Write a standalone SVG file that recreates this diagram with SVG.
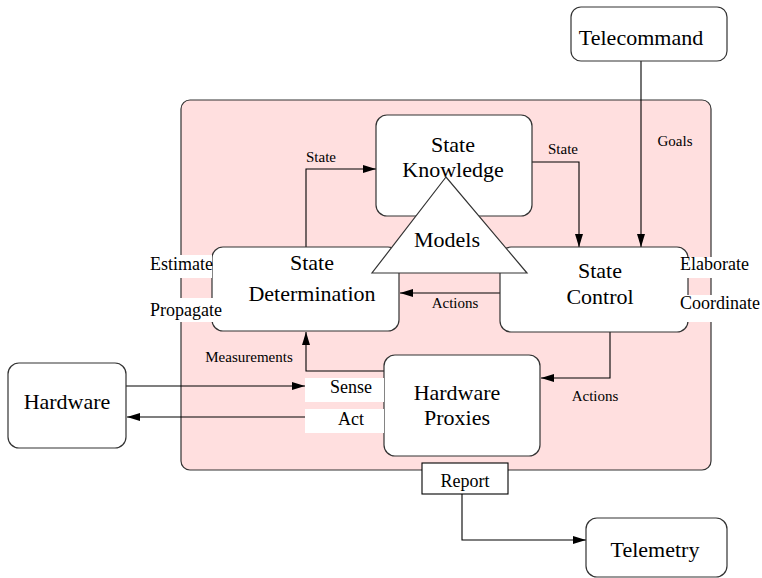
<svg xmlns="http://www.w3.org/2000/svg" width="762" height="578" viewBox="0 0 762 578" font-family="'Liberation Serif', serif">
<style>
.box{fill:#fff;stroke:#333;stroke-width:1.2}
.lg{font-family:"Liberation Serif","Times New Roman",serif;font-size:22px;fill:#000;text-anchor:middle}
.md{font-family:"Liberation Serif",serif;font-size:18px;fill:#000}
.sm{font-family:"Liberation Serif",serif;font-size:15px;fill:#000;text-anchor:middle}
.ln{fill:none;stroke:#000;stroke-width:1.1}
.wb{fill:#fff;stroke:none}
</style>
<defs>
<marker id="ah" markerUnits="userSpaceOnUse" markerWidth="13" markerHeight="8" refX="13" refY="4" orient="auto">
<path d="M0,0 L13,4 L0,8 z" fill="#000"/>
</marker>
</defs>
<rect width="762" height="578" fill="#fff"/>
<g id="controller">
<rect x="181" y="100" width="530" height="370" rx="9" fill="#ffdfdf" stroke="#333" stroke-width="1.2"/>
</g>
<g id="connectors">
<polyline class="ln" points="306,247 306,169 376,169" marker-end="url(#ah)"/>
<polyline class="ln" points="532,162 579,162 579,247" marker-end="url(#ah)"/>
<polyline class="ln" points="641,61 641,247" marker-end="url(#ah)"/>
<polyline class="ln" points="500,293 400,293" marker-end="url(#ah)"/>
<polyline class="ln" points="610,332 610,378 541,378" marker-end="url(#ah)"/>
<polyline class="ln" points="384,371 306,371 306,332" marker-end="url(#ah)"/>
<polyline class="ln" points="126,386 305,386" marker-end="url(#ah)"/>
<polyline class="ln" points="305,417 127,417" marker-end="url(#ah)"/>
<polyline class="ln" points="462,494 462,540 586,540" marker-end="url(#ah)"/>
<text class="sm" x="321" y="162">State</text>
<text class="sm" x="563" y="154">State</text>
<text class="sm" x="675" y="146">Goals</text>
<text class="sm" x="455" y="308">Actions</text>
<text class="sm" x="595" y="401">Actions</text>
<text class="sm" x="249" y="362">Measurements</text>
</g>
<g id="state-knowledge">
<rect class="box" x="376" y="115" width="156" height="101" rx="11"/>
<text class="lg" x="453" y="152">State</text>
<text class="lg" x="453" y="177">Knowledge</text>
</g>
<g id="state-determination">
<rect class="box" x="212" y="247" width="187" height="84" rx="11"/>
<text class="lg" x="312" y="270">State</text>
<text class="lg" x="312" y="301">Determination</text>
<rect class="wb" x="147" y="255" width="65" height="23"/>
<text class="md" x="150" y="270">Estimate</text>
<rect class="wb" x="147" y="298" width="78" height="24"/>
<text class="md" x="150" y="316">Propagate</text>
</g>
<g id="state-control">
<rect class="box" x="500" y="247" width="188" height="85" rx="11"/>
<text class="lg" x="600" y="278">State</text>
<text class="lg" x="600" y="304">Control</text>
<rect class="wb" x="680" y="257" width="76" height="21"/>
<text class="md" x="680" y="270">Elaborate</text>
<rect class="wb" x="680" y="295" width="82" height="27"/>
<text class="md" x="680" y="309">Coordinate</text>
</g>
<g id="models">
<polygon points="446,177 372,273 527,273" fill="#fff" stroke="#333" stroke-width="1.2"/>
<text class="lg" x="447" y="247">Models</text>
</g>
<g id="hardware-proxies">
<rect class="box" x="384" y="355" width="156" height="101" rx="11"/>
<text class="lg" x="457" y="400">Hardware</text>
<text class="lg" x="457" y="425">Proxies</text>
<rect class="wb" x="305" y="378" width="79" height="24"/>
<text class="md" x="351" y="393" text-anchor="middle">Sense</text>
<rect class="wb" x="305" y="409" width="79" height="24"/>
<text class="md" x="351" y="425" text-anchor="middle">Act</text>
</g>
<g id="hardware">
<rect class="box" x="8" y="363" width="118" height="85" rx="11"/>
<text class="lg" x="67" y="409">Hardware</text>
</g>
<g id="telecommand">
<rect class="box" x="571" y="7" width="156" height="54" rx="10"/>
<text class="lg" x="641" y="45">Telecommand</text>
</g>
<g id="report">
<rect x="422" y="463" width="86" height="31" fill="#fff" stroke="#000" stroke-width="1.1"/>
<text class="md" x="465" y="487" text-anchor="middle">Report</text>
</g>
<g id="telemetry">
<rect class="box" x="586" y="518" width="141" height="59" rx="11"/>
<text class="lg" x="655" y="557">Telemetry</text>
</g>
</svg>
